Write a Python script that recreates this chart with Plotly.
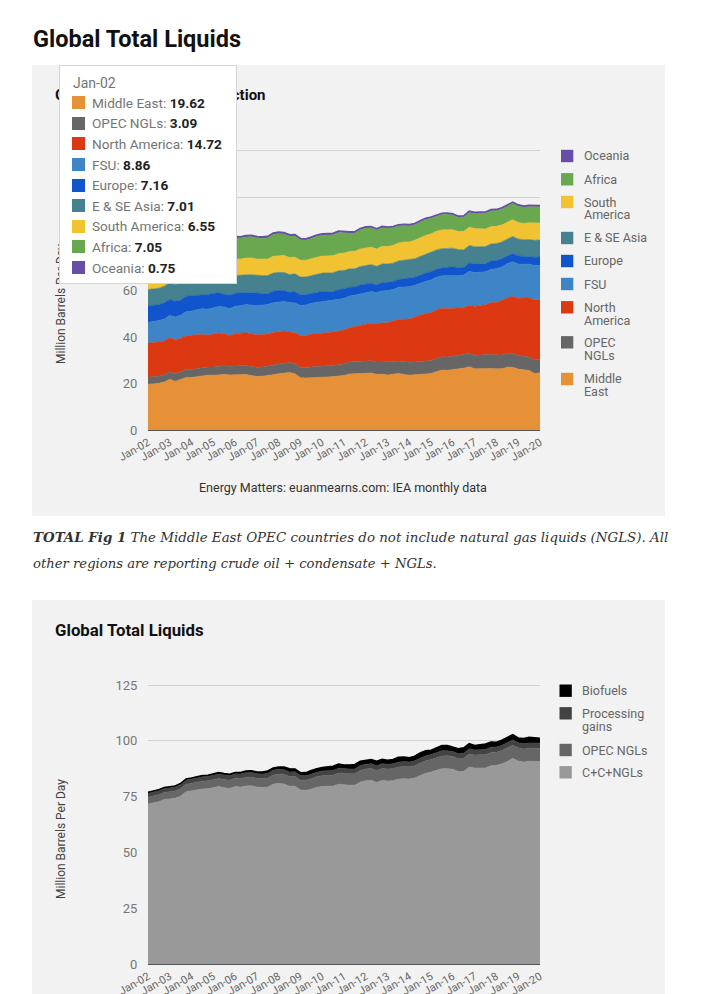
import plotly.graph_objects as go
import pandas as pd

W, H = 708, 994
OFF = 8          # the page body margin that sits in front of the figure
FONT = "Roboto"

# ---------------- data (quarterly readings, million barrels per day) ----------------
dates = pd.date_range("2002-01-01", "2020-01-01", freq="QS")

middle_east = [
    19.62, 19.8, 20.1, 20.6,
    21.8, 20.9, 21.6, 22.6,
    22.6, 23.0, 23.4, 23.6,
    23.5, 23.8, 23.9, 23.7,
    23.8, 23.7, 23.9, 23.4,
    23.0, 23.1, 23.3, 23.8,
    24.2, 24.5, 24.7, 24.2,
    22.5, 22.4, 22.6, 22.6,
    22.7, 22.8, 22.9, 23.1,
    23.4, 24.1, 24.3, 24.3,
    24.4, 24.5, 24.0, 24.0,
    23.7, 24.0, 24.3, 23.9,
    23.6, 23.8, 24.1, 24.1,
    24.3, 25.2, 25.8, 25.7,
    25.9, 26.2, 26.6, 27.2,
    26.3, 26.4, 26.6, 26.5,
    26.3, 26.4, 27.0, 27.0,
    26.2, 25.8, 25.6, 24.3,
    24.6]

opec_ngls = [
    3.09, 3.10, 3.15, 3.20,
    3.25, 3.25, 3.30, 3.35,
    3.40, 3.45, 3.50, 3.55,
    3.60, 3.65, 3.70, 3.70,
    3.75, 3.80, 3.85, 3.90,
    3.95, 4.00, 4.05, 4.10,
    4.20, 4.25, 4.30, 4.35,
    4.40, 4.50, 4.60, 4.70,
    4.80, 4.85, 4.90, 5.00,
    5.05, 5.10, 5.15, 5.20,
    5.25, 5.25, 5.30, 5.30,
    5.35, 5.35, 5.40, 5.45,
    5.50, 5.50, 5.55, 5.60,
    5.60, 5.65, 5.70, 5.75,
    5.80, 5.80, 5.85, 5.85,
    5.85, 5.85, 5.90, 5.90,
    5.90, 5.90, 5.90, 5.85,
    5.85, 5.85, 5.80, 5.80,
    5.80]

north_america = [
    14.72, 14.7, 14.6, 14.5,
    14.6, 14.7, 14.5, 14.6,
    14.6, 14.5, 14.2, 13.6,
    14.2, 14.3, 13.8, 13.2,
    13.9, 14.0, 14.1, 14.1,
    14.0, 14.0, 13.9, 14.0,
    13.9, 13.8, 13.2, 13.3,
    13.7, 13.8, 14.0, 14.1,
    14.2, 14.3, 14.3, 14.5,
    14.6, 14.8, 15.0, 15.4,
    15.8, 16.2, 16.3, 16.8,
    17.1, 17.4, 17.9, 18.3,
    18.6, 19.2, 19.8, 20.3,
    20.6, 20.8, 20.9, 20.7,
    20.6, 20.2, 20.2, 20.6,
    21.0, 21.3, 21.4, 22.4,
    22.8, 23.4, 24.0, 24.6,
    24.6, 25.1, 25.4, 25.9,
    25.6]

fsu = [
    8.86, 9.0, 9.2, 9.4,
    9.6, 9.8, 10.0, 10.3,
    10.5, 10.8, 11.0, 11.2,
    11.3, 11.4, 11.5, 11.6,
    11.8, 11.9, 12.1, 12.3,
    12.5, 12.6, 12.7, 12.8,
    12.8, 12.7, 12.6, 12.8,
    12.9, 13.1, 13.3, 13.4,
    13.5, 13.5, 13.5, 13.6,
    13.5, 13.6, 13.5, 13.6,
    13.6, 13.6, 13.5, 13.7,
    13.8, 13.7, 13.8, 13.9,
    13.9, 13.8, 13.8, 13.9,
    14.0, 14.0, 13.9, 14.1,
    14.2, 14.1, 13.9, 14.6,
    14.5, 14.3, 14.2, 14.3,
    14.3, 14.4, 14.6, 14.9,
    14.7, 14.5, 14.6, 14.7,
    14.7]

europe = [
    7.16, 7.0, 6.8, 7.0,
    6.9, 6.7, 6.4, 6.7,
    6.6, 6.4, 6.1, 6.3,
    6.1, 5.9, 5.5, 5.8,
    5.6, 5.4, 5.1, 5.4,
    5.3, 5.0, 4.7, 5.0,
    4.9, 4.7, 4.4, 4.8,
    4.7, 4.4, 4.2, 4.5,
    4.4, 4.1, 3.9, 4.2,
    4.1, 3.8, 3.6, 3.9,
    3.8, 3.6, 3.3, 3.6,
    3.6, 3.4, 3.3, 3.5,
    3.5, 3.4, 3.3, 3.6,
    3.6, 3.5, 3.4, 3.7,
    3.7, 3.5, 3.4, 3.6,
    3.7, 3.6, 3.4, 3.6,
    3.6, 3.5, 3.3, 3.6,
    3.5, 3.4, 3.3, 3.6,
    3.7]

e_se_asia = [
    7.01, 7.05, 7.10, 7.15,
    7.20, 7.20, 7.25, 7.30,
    7.40, 7.40, 7.45, 7.50,
    7.50, 7.55, 7.60, 7.60,
    7.60, 7.65, 7.70, 7.70,
    7.70, 7.70, 7.75, 7.80,
    7.80, 7.80, 7.70, 7.70,
    7.60, 7.60, 7.70, 7.80,
    7.90, 8.00, 8.10, 8.10,
    8.00, 7.90, 7.80, 7.90,
    7.90, 8.00, 8.00, 8.00,
    7.90, 7.90, 8.00, 8.00,
    8.00, 8.00, 8.10, 8.10,
    8.20, 8.30, 8.30, 8.20,
    8.00, 7.80, 7.60, 7.50,
    7.50, 7.40, 7.40, 7.30,
    7.30, 7.30, 7.20, 7.30,
    7.30, 7.20, 7.20, 7.30,
    7.30]

south_america = [
    6.55, 6.7, 6.8, 6.7,
    5.4, 6.4, 6.7, 6.8,
    6.9, 6.9, 7.0, 7.0,
    7.0, 7.1, 7.1, 7.1,
    7.1, 7.1, 7.2, 7.2,
    7.1, 7.1, 7.1, 7.2,
    7.2, 7.3, 7.3, 7.2,
    7.2, 7.2, 7.3, 7.3,
    7.3, 7.3, 7.4, 7.4,
    7.4, 7.5, 7.5, 7.6,
    7.6, 7.5, 7.5, 7.6,
    7.5, 7.6, 7.7, 7.8,
    7.8, 7.9, 8.0, 8.1,
    8.1, 8.0, 8.1, 8.1,
    7.9, 7.8, 7.9, 7.9,
    7.8, 7.7, 7.6, 7.5,
    7.4, 7.3, 7.2, 7.2,
    7.1, 7.0, 7.2, 7.3,
    7.3]

africa = [
    7.05, 7.2, 7.4, 7.6,
    7.8, 7.9, 8.1, 8.3,
    8.4, 8.5, 8.7, 8.8,
    8.8, 8.9, 9.0, 9.1,
    9.1, 9.0, 9.1, 9.2,
    9.1, 9.0, 9.2, 9.4,
    9.5, 9.3, 9.2, 9.1,
    8.8, 8.7, 8.7, 8.9,
    9.0, 9.0, 9.0, 9.1,
    8.7, 7.9, 7.9, 8.3,
    8.5, 8.4, 8.2, 8.1,
    7.9, 7.7, 7.4, 7.2,
    7.0, 6.8, 6.9, 6.9,
    6.8, 6.7, 6.7, 6.6,
    6.5, 6.2, 6.3, 6.5,
    6.6, 6.8, 6.9, 6.9,
    6.9, 7.0, 7.0, 7.1,
    7.1, 7.0, 7.0, 7.1,
    7.0]

oceania = [
    0.75, 0.74, 0.72, 0.70,
    0.68, 0.66, 0.64, 0.62,
    0.60, 0.58, 0.56, 0.55,
    0.55, 0.56, 0.57, 0.58,
    0.57, 0.56, 0.55, 0.54,
    0.55, 0.56, 0.58, 0.60,
    0.60, 0.60, 0.59, 0.58,
    0.58, 0.57, 0.56, 0.56,
    0.57, 0.58, 0.58, 0.57,
    0.55, 0.53, 0.52, 0.51,
    0.50, 0.49, 0.48, 0.47,
    0.46, 0.45, 0.44, 0.44,
    0.44, 0.43, 0.42, 0.42,
    0.42, 0.42, 0.41, 0.41,
    0.40, 0.39, 0.38, 0.37,
    0.37, 0.36, 0.36, 0.37,
    0.38, 0.40, 0.42, 0.45,
    0.48, 0.50, 0.52, 0.54,
    0.55]

processing_gains = [
    1.80, 1.80, 1.85, 1.85,
    1.85, 1.85, 1.90, 1.90,
    1.90, 1.95, 1.95, 1.95,
    2.00, 2.00, 2.00, 2.00,
    2.00, 2.00, 2.05, 2.05,
    2.05, 2.05, 2.10, 2.10,
    2.10, 2.10, 2.05, 2.05,
    2.05, 2.05, 2.10, 2.10,
    2.10, 2.15, 2.15, 2.15,
    2.15, 2.15, 2.15, 2.20,
    2.15, 2.15, 2.20, 2.20,
    2.20, 2.20, 2.20, 2.20,
    2.20, 2.20, 2.25, 2.25,
    2.25, 2.25, 2.30, 2.30,
    2.25, 2.25, 2.30, 2.30,
    2.30, 2.30, 2.35, 2.35,
    2.35, 2.35, 2.40, 2.40,
    2.35, 2.35, 2.40, 2.40,
    2.40]

biofuels = [
    0.35, 0.38, 0.42, 0.40,
    0.40, 0.45, 0.50, 0.48,
    0.48, 0.52, 0.58, 0.55,
    0.55, 0.60, 0.68, 0.65,
    0.62, 0.72, 0.85, 0.82,
    0.80, 0.95, 1.10, 1.05,
    1.05, 1.25, 1.45, 1.35,
    1.30, 1.45, 1.65, 1.60,
    1.55, 1.75, 1.95, 1.85,
    1.70, 1.85, 2.00, 1.95,
    1.75, 1.90, 2.05, 1.95,
    1.75, 1.95, 2.20, 2.10,
    1.90, 2.10, 2.35, 2.25,
    1.95, 2.20, 2.45, 2.35,
    2.00, 2.25, 2.45, 2.35,
    2.05, 2.30, 2.50, 2.40,
    2.15, 2.35, 2.50, 2.40,
    2.10, 2.35, 2.55, 2.45,
    2.20]

region_names = ["Middle East", "OPEC NGLs", "North America", "FSU", "Europe",
                "E & SE Asia", "South America", "Africa", "Oceania"]
region_values = [middle_east, opec_ngls, north_america, fsu, europe,
                 e_se_asia, south_america, africa, oceania]
region_colors = ["#e69138", "#666666", "#dc3912", "#3d85c6", "#1155cc",
                 "#45818e", "#f1c232", "#6aa84f", "#674ea7"]

# C+C+NGLs = every region except the OPEC NGLs band
cc_ngls = [round(me + na + fs + eu + asi + sa + af + oc, 2) for me, na, fs, eu, asi, sa, af, oc in
           zip(middle_east, north_america, fsu, europe, e_se_asia, south_america, africa, oceania)]
total_names = ["C+C+NGLs", "OPEC NGLs", "Processing gains", "Biofuels"]
total_values = [cc_ngls, opec_ngls, processing_gains, biofuels]
total_colors = ["#999999", "#666666", "#434343", "#000000"]

tooltip_date = "Jan-02"
x_start, x_end = "2002-01-01", "2020-01-01"

# ---------------- figure ----------------
def px(x):
    return (x - OFF) / W

def py(y):
    return 1 - (y - OFF) / H

fig = go.Figure()

for name, vals, col in zip(region_names, region_values, region_colors):
    fig.add_trace(go.Scatter(
        x=dates, y=vals, name=name, mode="lines", stackgroup="regions",
        line=dict(color=col, width=1.6 if name == "Oceania" else 0.6),
        fillcolor=col, showlegend=False, xaxis="x", yaxis="y"))

for name, vals, col in zip(total_names, total_values, total_colors):
    fig.add_trace(go.Scatter(
        x=dates, y=vals, name=name, mode="lines", stackgroup="totals",
        line=dict(color=col, width=1.4 if name == "Biofuels" else 0.6),
        fillcolor=col, showlegend=False, xaxis="x2", yaxis="y2"))

xcommon = dict(type="date", range=[x_start, x_end], tickformat="%b-%y", dtick="M12",
               tick0=x_start, tickangle=-30, tickfont=dict(size=11, color="#666"),
               showgrid=False, showline=True, linecolor="#555", linewidth=1,
               ticks="outside", ticklen=1, tickcolor="rgba(0,0,0,0)", zeroline=False,
               fixedrange=True, automargin=False)
ycommon = dict(tickfont=dict(size=13, color="#777"), gridcolor="#d4d4d4", gridwidth=1,
               zeroline=False, showline=False, ticks="outside", ticklen=7,
               tickcolor="rgba(0,0,0,0)", fixedrange=True, automargin=False)

# plot 1: 0 at y=430px, 120 at y=151px ; plot 2: 0 at y=964px, 125 at y=685px
s1 = (430 - 151) / 120
s2 = (964 - 685) / 125
top1 = 430 - 120.6 * s1
top2 = 964 - 125.6 * s2

fig.update_layout(
    width=W, height=H, margin=dict(l=0, r=0, t=0, b=0, pad=0, autoexpand=False),
    paper_bgcolor="white", plot_bgcolor="white",
    font=dict(family=FONT), showlegend=False, hovermode=False,
    xaxis=dict(domain=[px(148), px(540)], anchor="y", **xcommon),
    yaxis=dict(domain=[py(430), py(top1)], anchor="x", range=[0, 120.6],
               tickvals=[0, 20, 40, 60, 80, 100, 120], **ycommon),
    xaxis2=dict(domain=[px(148), px(540)], anchor="y2", **xcommon),
    yaxis2=dict(domain=[py(964), py(top2)], anchor="x2", range=[0, 125.6],
                tickvals=[0, 25, 50, 75, 100, 125], **ycommon),
)

shapes = [
    dict(type="rect", xref="paper", yref="paper", x0=px(32), x1=px(665), y0=py(516), y1=py(65),
         fillcolor="#f2f2f2", line=dict(width=0), layer="below"),
    dict(type="rect", xref="paper", yref="paper", x0=px(32), x1=px(665), y0=0, y1=py(600),
         fillcolor="#f2f2f2", line=dict(width=0), layer="below"),
]

ann = []

def text(t, x, y, size, color="#222", xanchor="left", yanchor="middle", family=FONT, **kw):
    ann.append(dict(text=t, x=px(x), y=py(y), xref="paper", yref="paper", xanchor=xanchor,
                    yanchor=yanchor, showarrow=False,
                    font=dict(size=size, color=color, family=family), **kw))

def box(x0, y0, w, h, fill, border=None, bw=0):
    ann.append(dict(text=" ", x=px(x0), y=py(y0), xref="paper", yref="paper", xanchor="left",
                    yanchor="top", showarrow=False, width=w, height=h, bgcolor=fill,
                    bordercolor=border or fill, borderwidth=bw, borderpad=0,
                    font=dict(size=1)))

# headings and captions
text("<b>Global Total Liquids</b>", 31, 39, 23.5, color="#111")
text("<b>Global Total Liquids Production</b>", 53, 95, 15, color="#111")
text("Million Barrels Per Day", 61, 304, 12, color="#444", xanchor="center", textangle=-90)
text("Energy Matters: euanmearns.com: IEA monthly data", 343, 487, 12.5, color="#333",
     xanchor="center")
text("<i><b>TOTAL Fig 1</b> The Middle East OPEC countries do not include natural gas liquids (NGLS). All</i>",
     31, 537, 13.4, color="#333", family="DejaVu Serif")
text("<i>other regions are reporting crude oil + condensate + NGLs.</i>",
     31, 563, 13.2, color="#333", family="DejaVu Serif")
text("<b>Global Total Liquids</b>", 53, 630, 16.8, color="#111")
text("Million Barrels Per Day", 61, 839, 12, color="#444", xanchor="center", textangle=-90)

# legend chart 1 (manual, top to bottom)
legend1 = [("Oceania", 156), ("Africa", 179.3), ("South|America", 202), ("E & SE Asia", 238),
           ("Europe", 261), ("FSU", 284), ("North|America", 307.3), ("OPEC|NGLs", 342.3),
           ("Middle|East", 379)]
for label, yc in legend1:
    name = label.replace("|", " ")
    col = region_colors[region_names.index(name)]
    shapes.append(dict(type="rect", xref="paper", yref="paper", x0=px(561), x1=px(573.3),
                       y0=py(yc + 6.2), y1=py(yc - 6.2), fillcolor=col, line=dict(width=0)))
    for i, part in enumerate(label.split("|")):
        text(part, 581.5, yc + i * 12.7, 12.5, color="#666")

# legend chart 2
legend2 = [("Biofuels", 690.7), ("Processing|gains", 713.3), ("OPEC NGLs", 750), ("C+C+NGLs", 772.3)]
for label, yc in legend2:
    name = label.replace("|", " ")
    col = total_colors[total_names.index(name)]
    shapes.append(dict(type="rect", xref="paper", yref="paper", x0=px(559.5), x1=px(571.8),
                       y0=py(yc + 6.2), y1=py(yc - 6.2), fillcolor=col, line=dict(width=0)))
    for i, part in enumerate(label.split("|")):
        text(part, 580, yc + i * 12.7, 12.5, color="#666")

# tooltip (drawn last so it covers the chart title and axis labels)
box(60.5, 67, 176, 217, "rgba(0,0,0,0.10)")
box(58.7, 65, 176, 217, "white", border="#d6d6d6", bw=1)
text(tooltip_date, 71, 82.7, 14, color="#757575")
for i, (name, vals, col) in enumerate(zip(region_names, region_values, region_colors)):
    yc = 102.7 + i * 20.6
    box(72, yc - 6.6, 13.3, 13.3, col)
    text(f"{name}: <span style='color:#222'><b>{vals[0]:.2f}</b></span>", 89.5, yc, 13.6,
         color="#757575")

fig.update_layout(shapes=shapes, annotations=ann)
fig.write_html("out.html")
